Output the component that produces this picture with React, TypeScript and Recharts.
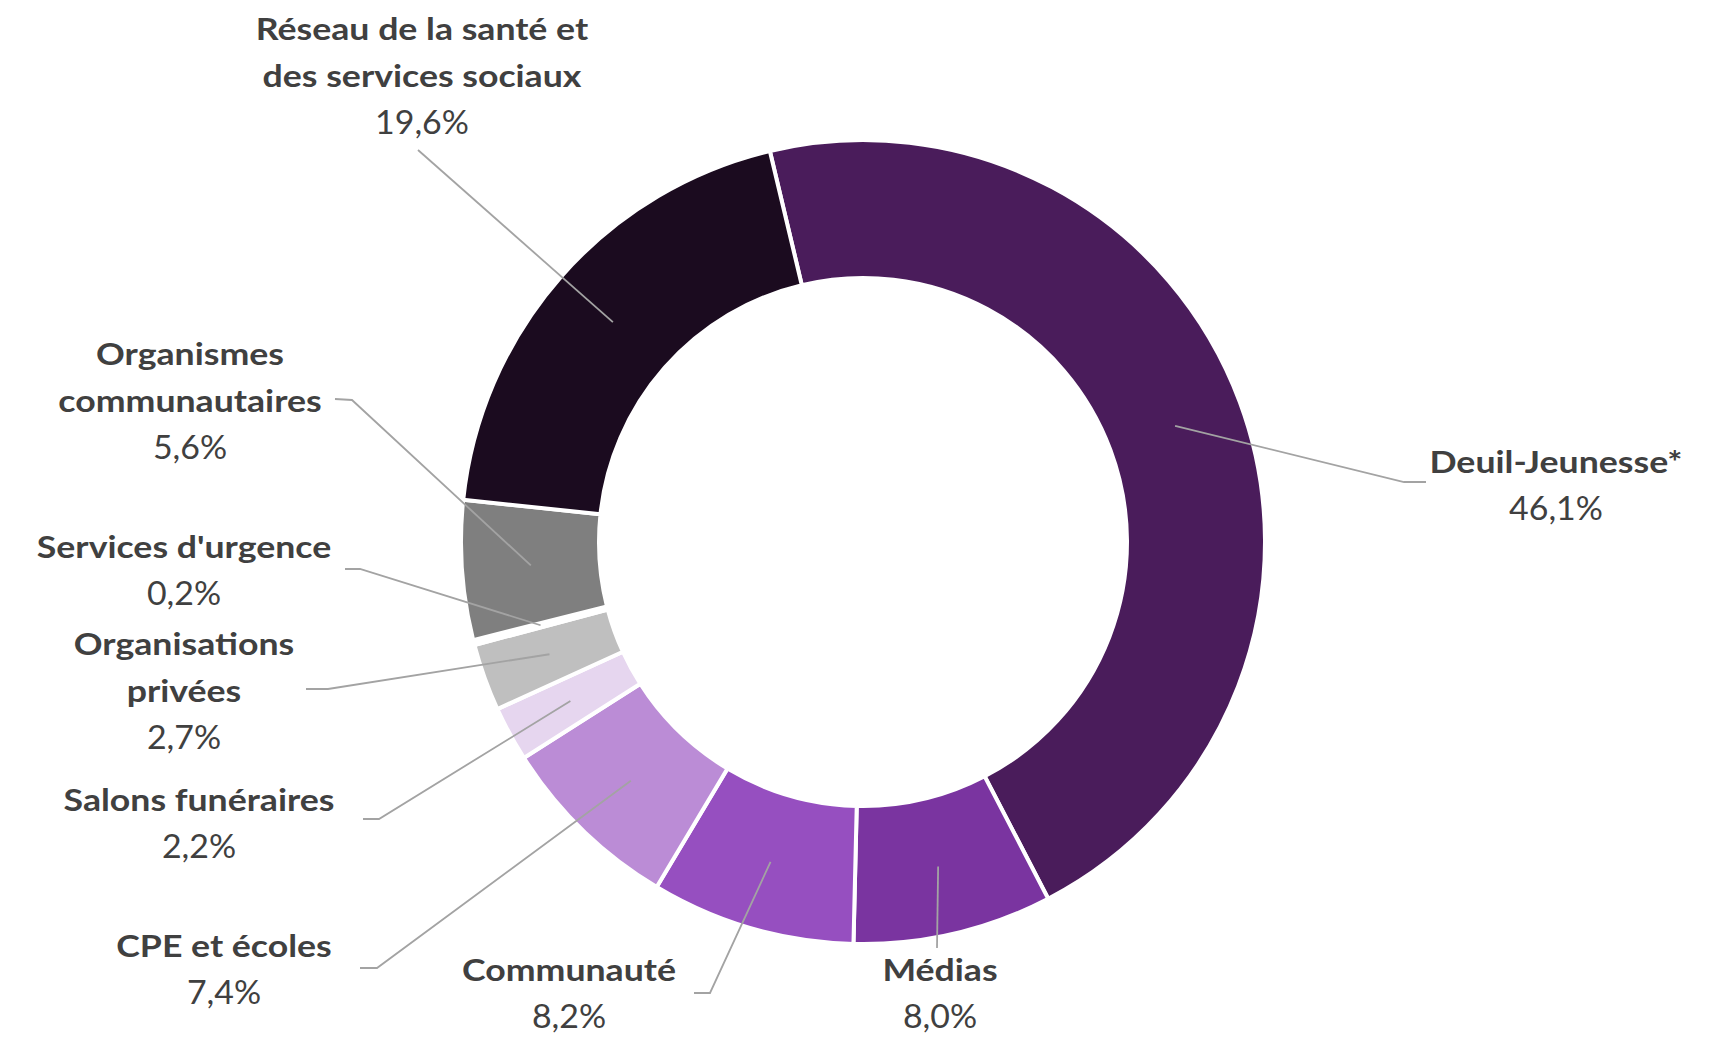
import { PieChart, Pie, Cell } from 'recharts';

const categories = [
  'Deuil-Jeunesse*',
  'Médias',
  'Communauté',
  'CPE et écoles',
  'Salons funéraires',
  'Organisations privées',
  "Services d'urgence",
  'Organismes communautaires',
  'Réseau de la santé et des services sociaux',
];
const shares = [46.1, 8.0, 8.2, 7.4, 2.2, 2.7, 0.2, 5.6, 19.6];
const nameLines = [
  ['Deuil-Jeunesse*'],
  ['Médias'],
  ['Communauté'],
  ['CPE et écoles'],
  ['Salons funéraires'],
  ['Organisations', 'privées'],
  ["Services d'urgence"],
  ['Organismes', 'communautaires'],
  ['Réseau de la santé et', 'des services sociaux'],
];
const colors = ['#4a1c5b', '#7a34a0', '#964fc0', '#bb8cd6', '#e6d6ef', '#bfbfbf', '#ffffff', '#7f7f7f', '#1b0b1f'];

// where each label sits: text centre x, first line y, leader start, optional elbow
const placement = [
  { x: 1556, y: 461, from: [1426, 482], elbow: [1404, 482] },
  { x: 940, y: 969, from: [937, 948], elbow: null },
  { x: 569, y: 969, from: [694, 993], elbow: [710, 993] },
  { x: 224, y: 945, from: [360, 968], elbow: [377, 968] },
  { x: 199, y: 799, from: [363, 819], elbow: [379, 819] },
  { x: 184, y: 643, from: [306, 689], elbow: [328, 689] },
  { x: 184, y: 546, from: [345, 569], elbow: [360, 569] },
  { x: 190, y: 353, from: [335, 399], elbow: [352, 400] },
  { x: 422, y: 28, from: [418, 150], elbow: null },
];

const data = categories.map((name, i) => ({ name, value: shares[i] }));

const RAD = Math.PI / 180;
const LINE_H = 46.5;
const FONT = 'Lato, "Open Sans", sans-serif';

const renderLabel = (props: any) => {
  const { cx, cy, midAngle, innerRadius, outerRadius, index, value } = props;
  const r = (innerRadius + outerRadius) / 2;
  const px = cx + r * Math.cos(-midAngle * RAD);
  const py = cy + r * Math.sin(-midAngle * RAD);
  const p = placement[index];
  const lines = nameLines[index];
  const pts = [p.from, ...(p.elbow ? [p.elbow] : []), [px, py]].map((q) => q.join(',')).join(' ');
  return (
    <g key={`lbl-${index}`}>
      <polyline points={pts} fill="none" stroke="#a3a3a3" strokeWidth={1.8} />
      {lines.map((t, k) => (
        <text
          key={k}
          x={0}
          y={0}
          transform={`translate(${p.x} ${p.y + k * LINE_H}) scale(1.15 1)`}
          textAnchor="middle"
          dominantBaseline="central"
          fontFamily={FONT}
          fontWeight={700}
          fontSize={31}
          fill="#404040"
        >
          {t}
        </text>
      ))}
      <text
        x={0}
        y={0}
        transform={`translate(${p.x} ${p.y + lines.length * LINE_H}) scale(1.06 1)`}
        textAnchor="middle"
        dominantBaseline="central"
        fontFamily={FONT}
        fontSize={32}
        fill="#404040"
      >
        {value.toFixed(1).replace('.', ',') + '%'}
      </text>
    </g>
  );
};

export default function App() {
  return (
    <div style={{ position: 'absolute', left: 0, top: 0, width: 1713, height: 1037, background: '#fff' }}>
      <PieChart width={1713} height={1037}>
        <Pie
          data={data}
          dataKey="value"
          nameKey="name"
          cx={858}
          cy={537}
          innerRadius={264}
          outerRadius={402}
          startAngle={103.4}
          endAngle={-256.6}
          stroke="#ffffff"
          strokeWidth={4}
          label={renderLabel}
          labelLine={false}
          isAnimationActive={false}
        >
          {data.map((d, i) => (
            <Cell key={d.name} fill={colors[i]} />
          ))}
        </Pie>
      </PieChart>
    </div>
  );
}
